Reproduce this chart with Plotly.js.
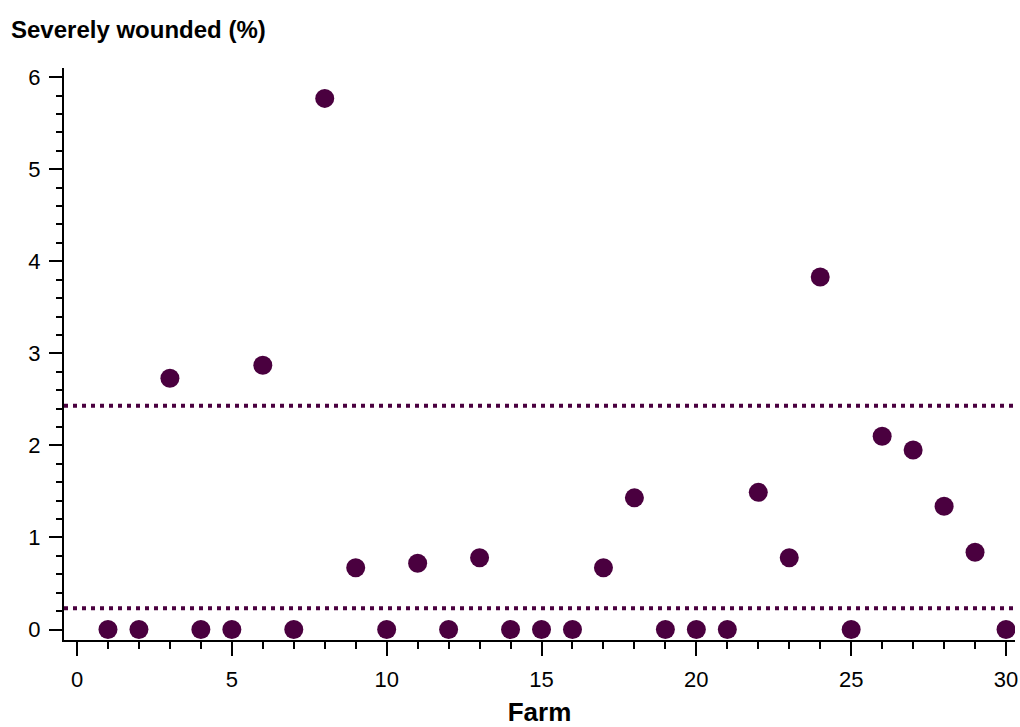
<!DOCTYPE html>
<html>
<head>
<meta charset="utf-8">
<script src="https://cdn.plot.ly/plotly-3.0.1.min.js"></script>
<style>html,body{margin:0;padding:0;background:#fff;}#chart{width:1020px;height:727px;}</style>
</head>
<body>
<div id="chart"></div>
<script>
const farms = [1,2,3,4,5,6,7,8,9,10,11,12,13,14,15,16,17,18,19,20,21,22,23,24,25,26,27,28,29,30];
const severelyWounded = [0,0,2.73,0,0,2.87,0,5.77,0.67,0,0.72,0,0.78,0,0,0,0.67,1.43,0,0,0,1.49,0.78,3.83,0,2.10,1.95,1.34,0.84,0];
const limitValues = [2.43, 0.23];
const titleText = 'Severely wounded (%)';
const xTitle = 'Farm';

const purple = '#4a003f';

const traces = [{
  x: farms, y: severelyWounded, type: 'scatter', mode: 'markers',
  marker: {color: purple, size: 19, line: {width: 0}},
  hoverinfo: 'x+y', showlegend: false
}];

const shapes = limitValues.map(v => ({
  type: 'line', xref: 'paper', x0: 0, x1: 1, yref: 'y', y0: v, y1: v,
  line: {color: purple, width: 4, dash: '4px,5px'}
}));

const layout = {
  width: 1020, height: 727,
  paper_bgcolor: '#fff', plot_bgcolor: '#fff',
  margin: {l: 64, r: 5, t: 68, b: 87},
  showlegend: false,
  title: {
    text: titleText, xref: 'container', yref: 'container',
    x: 11/1020, xanchor: 'left', y: 1 - 30/727, yanchor: 'middle',
    font: {family: '"Liberation Sans Narrow", "Arial Narrow", "Liberation Sans", Arial, sans-serif', size: 24, color: '#000', weight: 'bold'}
  },
  xaxis: {
    range: [-0.42, 30.29], showgrid: false, zeroline: false,
    showline: true, linecolor: '#000', linewidth: 2,
    tickmode: 'linear', tick0: 0, dtick: 5,
    ticks: 'outside', ticklen: 14, tickwidth: 2, tickcolor: '#000',
    ticklabelstandoff: 5,
    minor: {tickmode: 'linear', tick0: 0, dtick: 1, ticks: 'outside', ticklen: 7, tickwidth: 2, tickcolor: '#000', showgrid: false},
    tickfont: {family: '"Liberation Sans", Arial, sans-serif', size: 22, color: '#000'},
    title: {text: xTitle, standoff: 12, font: {family: '"Liberation Sans", Arial, sans-serif', size: 26, color: '#000', weight: 'bold'}},
    fixedrange: true
  },
  yaxis: {
    range: [-0.114, 6.10], showgrid: false, zeroline: false,
    showline: true, linecolor: '#000', linewidth: 2,
    tickmode: 'linear', tick0: 0, dtick: 1,
    ticks: 'outside', ticklen: 13, tickwidth: 2, tickcolor: '#000',
    ticklabelstandoff: 4,
    minor: {tickmode: 'linear', tick0: 0, dtick: 0.2, ticks: 'outside', ticklen: 6, tickwidth: 2, tickcolor: '#000', showgrid: false},
    tickfont: {family: '"Liberation Sans", Arial, sans-serif', size: 22, color: '#000'},
    fixedrange: true
  },
  shapes: shapes
};

Plotly.newPlot('chart', traces, layout, {displayModeBar: false, staticPlot: true});
</script>
</body>
</html>
